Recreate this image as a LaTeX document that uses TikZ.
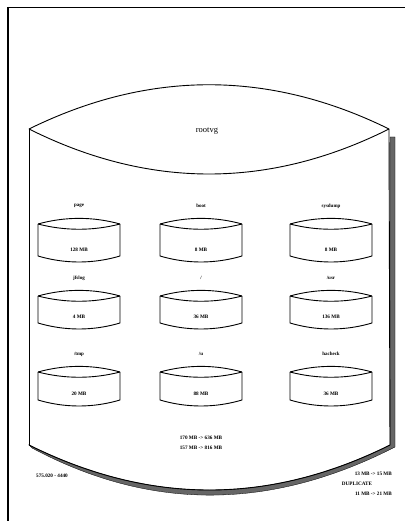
\documentclass[tikz,border=0pt]{standalone}
\usepackage{fontspec}
\setmainfont{Liberation Serif}
\begin{document}
\begin{tikzpicture}[x=1pt,y=-1pt,
  outline/.style={draw=black,line width=0.9pt},
  lvlabel/.style={inner sep=0pt,font=\bfseries\fontsize{5}{6}\selectfont},
  sizelabel/.style={inner sep=0pt,font=\bfseries\fontsize{5.2}{6}\selectfont},
  vglabel/.style={inner sep=0pt,font=\fontsize{8.5}{10}\selectfont},
  shadow/.style={fill=black!60,draw=black,line width=0.3pt}]
\useasboundingbox (0,0) rectangle (405,521);

% page frame (top and left edges)
\draw[line width=1.8pt] (8,7.5) -- (405,7.5);
\draw[line width=2pt] (8,7) -- (8,521);

% shadow of the volume group drum
\path[shadow] (390,137) -- (395,137) -- (395,447)
  .. controls (270,511) and (150,511) .. (32,448)
  -- (29,445) .. controls (150,505) and (269,505) .. (390,445) -- cycle;

% volume group drum
\draw[outline] (29,129) .. controls (149,70) and (269,70) .. (389,129);
\draw[outline] (29,129) .. controls (149,189) and (269,189) .. (389,129);
\draw[outline] (29,129) -- (29,445);
\draw[outline] (389,129) -- (390,445);
\draw[outline] (29,445) .. controls (150,505) and (269,505) .. (390,445);
\node[vglabel] (vg) at (207,131) {rootvg};

% logical volume: #1 name, #2 centre x, #3 top y, #4 bottom y, #5 label, #6 size
\newcommand\lvdrum[6]{%
  \draw[outline] (#2-41,#3) .. controls (#2-14,#3-7.5) and (#2+14,#3-7.5) .. (#2+41,#3);
  \draw[outline] (#2-41,#3) .. controls (#2-14,#3+7) and (#2+14,#3+7) .. (#2+41,#3);
  \draw[outline] (#2-41,#3) -- (#2-41,#4)
    .. controls (#2-14,#4+8) and (#2+14,#4+8) .. (#2+41,#4) -- (#2+41,#3);
  \node[lvlabel] (#1-name) at (#2,#3-18) {#5};
  \node[sizelabel] (#1-size) at (#2,#4-6) {#6};
}
\lvdrum{page}{79}{224}{256}{page}{128 MB}
\lvdrum{boot}{201}{224}{256}{boot}{8 MB}
\lvdrum{dump}{331}{224}{256}{sysdump}{8 MB}
\lvdrum{log}{79}{296}{323}{jfslog}{4 MB}
\lvdrum{root}{201}{296}{323}{/}{36 MB}
\lvdrum{usr}{331}{296}{323}{/usr}{136 MB}
\lvdrum{tmp}{79}{372}{400}{/tmp}{20 MB}
\lvdrum{u}{201}{372}{400}{/u}{88 MB}
\lvdrum{hack}{331}{372}{400}{hacheck}{36 MB}

% totals
\node[sizelabel] (tot1) at (201,438) {170 MB -> 636 MB};
\node[sizelabel] (tot2) at (201,447.5) {157 MB -> 816 MB};
\node[sizelabel] (left) at (52,476) {575.020 - 4440};
\node[sizelabel,anchor=east] (r1) at (392,473.5) {13 MB -> 15 MB};
\node[sizelabel] (r2) at (357,484) {DUPLICATE};
\node[sizelabel,anchor=east] (r3) at (392,493.5) {11 MB -> 21 MB};
\end{tikzpicture}
\end{document}
